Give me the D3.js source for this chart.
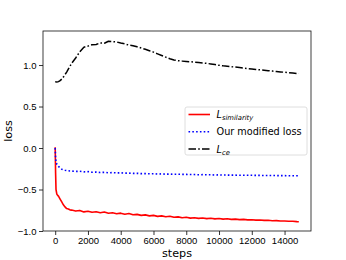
<!DOCTYPE html>
<html>
<head>
<meta charset="utf-8">
<script src="https://cdn.jsdelivr.net/npm/d3@7"></script>
<style>
  body { margin: 0; background: #fff; }
  svg { display: block; font-family: "DejaVu Sans", sans-serif; }
  .tick text { font-size: 9.5px; fill: #000; }
  .tick line { stroke: #000; stroke-width: 0.8; }
  .domain { display: none; }
</style>
</head>
<body>
<svg id="chart"></svg>
<script>
// training steps (x values)
const steps = [0, 25, 50, 100, 150, 200, 300, 400, 500, 600, 700, 800, 900, 1000,
  1250, 1500, 1750, 2000, 2250, 2500, 2750, 3000, 3250, 3500, 3750, 4000, 4250, 4500, 4750,
  5000, 5250, 5500, 5750, 6000, 6250, 6500, 6750, 7000, 7250, 7500, 7750, 8000, 8250, 8500,
  8750, 9000, 9250, 9500, 9750, 10000, 10250, 10500, 10750, 11000, 11250, 11500, 11750,
  12000, 12250, 12500, 12750, 13000, 13250, 13500, 13750, 14000, 14250, 14500, 14750, 14870];

// L_similarity
const lossSimilarity = [0.01, -0.30, -0.50, -0.555, -0.57, -0.58, -0.615, -0.65, -0.685, -0.71, -0.73, -0.735, -0.745, -0.748,
  -0.76, -0.752, -0.77, -0.762, -0.775, -0.768, -0.78, -0.772, -0.786, -0.78, -0.792, -0.785, -0.798, -0.79, -0.805,
  -0.80, -0.812, -0.806, -0.818, -0.812, -0.824, -0.818, -0.829, -0.823, -0.835, -0.83, -0.84, -0.835, -0.845, -0.84,
  -0.848, -0.843, -0.851, -0.847, -0.854, -0.85, -0.857, -0.853, -0.86, -0.857, -0.863, -0.86, -0.866,
  -0.864, -0.869, -0.867, -0.872, -0.871, -0.876, -0.875, -0.879, -0.879, -0.883, -0.883, -0.887, -0.888];

// Our modified loss
const lossModified = [0.0, -0.12, -0.17, -0.195, -0.21, -0.222, -0.24, -0.255, -0.263, -0.268, -0.272, -0.274, -0.277, -0.278,
  -0.282, -0.28, -0.287, -0.285, -0.292, -0.29, -0.295, -0.293, -0.298, -0.296, -0.30, -0.299, -0.303, -0.302, -0.306,
  -0.305, -0.309, -0.308, -0.311, -0.31, -0.313, -0.312, -0.315, -0.314, -0.317, -0.316, -0.318, -0.318, -0.32, -0.32,
  -0.322, -0.321, -0.323, -0.323, -0.325, -0.324, -0.326, -0.326, -0.327, -0.327, -0.328, -0.328, -0.329,
  -0.329, -0.33, -0.33, -0.331, -0.331, -0.332, -0.332, -0.333, -0.333, -0.334, -0.334, -0.335, -0.335];

// L_ce
const lossCe = [0.80, 0.798, 0.797, 0.795, 0.797, 0.80, 0.812, 0.83, 0.855, 0.885, 0.915, 0.95, 0.985, 1.02,
  1.085, 1.16, 1.215, 1.228, 1.245, 1.248, 1.266, 1.262, 1.286, 1.283, 1.278, 1.265, 1.255, 1.24, 1.232,
  1.22, 1.205, 1.19, 1.172, 1.155, 1.135, 1.115, 1.095, 1.075, 1.06, 1.052, 1.047, 1.043, 1.04, 1.035,
  1.03, 1.025, 1.02, 1.013, 1.005, 0.997, 0.99, 0.985, 0.98, 0.975, 0.97, 0.963, 0.957,
  0.952, 0.947, 0.942, 0.937, 0.932, 0.927, 0.922, 0.917, 0.913, 0.908, 0.903, 0.899, 0.897];

const xTicks = [0, 2000, 4000, 6000, 8000, 10000, 12000, 14000];
const yTicks = [-1.0, -0.5, 0.0, 0.5, 1.0];

const series = [
  { name: "similarity", values: lossSimilarity, color: "#ff0000", dash: null, w: 1.6 },
  { name: "modified", values: lossModified, color: "#0000ff", dash: "1.6,2.2", w: 1.6 },
  { name: "ce", values: lossCe, color: "#000000", dash: "7.5,2.2,1.6,2.2", w: 1.5 },
];

const W = 346, H = 260;
const m = { top: 31, right: 35, bottom: 29, left: 43 };

const svg = d3.select("#chart").attr("width", W).attr("height", H);

const x = d3.scaleLinear().domain([-744, 15614]).range([m.left, W - m.right]);
const y = d3.scaleLinear().domain([-1.0, 1.41]).range([H - m.bottom, m.top]);

// axes
svg.append("g")
  .attr("transform", `translate(0,${H - m.bottom})`)
  .call(d3.axisBottom(x).tickValues(xTicks).tickFormat(d3.format("d")).tickSize(4).tickPadding(2.5));

svg.append("g")
  .attr("transform", `translate(${m.left},0)`)
  .call(d3.axisLeft(y).tickValues(yTicks).tickFormat(d3.format(".1f")).tickSize(4).tickPadding(2.5));

// lines
const line = d3.line().x((d, i) => x(steps[i])).y(d => y(d));
series.forEach(s => {
  svg.append("path")
    .datum(s.values)
    .attr("d", line)
    .attr("fill", "none")
    .attr("stroke", s.color)
    .attr("stroke-width", s.w)
    .attr("stroke-linejoin", "round")
    .attr("stroke-dasharray", s.dash);
});

// frame
svg.append("rect")
  .attr("x", m.left).attr("y", m.top)
  .attr("width", W - m.left - m.right).attr("height", H - m.top - m.bottom)
  .attr("fill", "none").attr("stroke", "#111").attr("stroke-width", 0.8);

// axis labels
svg.append("text")
  .attr("x", (m.left + W - m.right) / 2).attr("y", 256.5)
  .attr("text-anchor", "middle").attr("font-size", 11.2).text("steps");

svg.append("text")
  .attr("transform", `translate(11.7,${(m.top + H - m.bottom) / 2}) rotate(-90)`)
  .attr("text-anchor", "middle").attr("font-size", 11.2).text("loss");

// legend
const lg = svg.append("g").attr("transform", "translate(185,107)");
lg.append("rect")
  .attr("width", 122).attr("height", 48).attr("rx", 2)
  .attr("fill", "#fff").attr("fill-opacity", 0.8)
  .attr("stroke", "#d5d5d5").attr("stroke-width", 0.8);

const rowsY = [7.5, 24.7, 42];
series.forEach((s, i) => {
  lg.append("line")
    .attr("x1", 3.5).attr("x2", 25).attr("y1", rowsY[i]).attr("y2", rowsY[i])
    .attr("stroke", s.color).attr("stroke-width", s.w)
    .attr("stroke-dasharray", s.dash);
  const t = lg.append("text").attr("x", 31.5).attr("y", rowsY[i] + 3.5).attr("font-size", 9.7);
  if (s.name === "modified") {
    t.text("Our modified loss");
  } else {
    t.append("tspan").attr("font-style", "italic").text("L");
    t.append("tspan").attr("font-style", "italic").attr("font-size", 6.8).attr("dy", 2.2).text(s.name);
  }
});
</script>
</body>
</html>
